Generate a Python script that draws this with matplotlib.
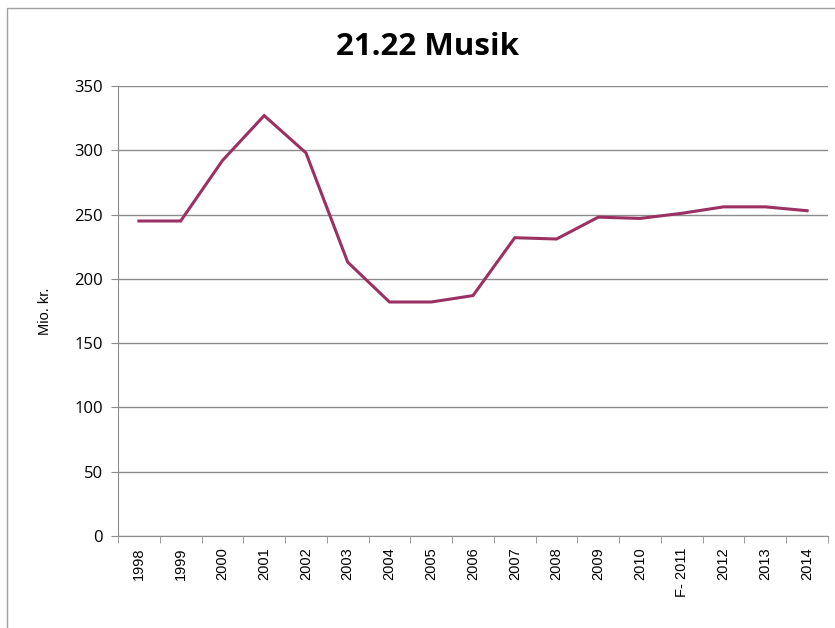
import matplotlib
matplotlib.use("Agg")
import matplotlib.pyplot as plt
from matplotlib.patches import Rectangle
from matplotlib.ticker import FixedLocator

years = ["1998", "1999", "2000", "2001", "2002", "2003", "2004", "2005", "2006",
         "2007", "2008", "2009", "2010", "F- 2011", "2012", "2013", "2014"]
values = [245, 245, 292, 327, 298, 213, 182, 182, 187,
          232, 231, 248, 247, 251, 256, 256, 253]
yticks = [0, 50, 100, 150, 200, 250, 300, 350]

fig = plt.figure(figsize=(8.35, 6.28), dpi=100)
fig.patches.append(Rectangle((7/835, -0.1), 2, 1 - 8/628 + 0.1, transform=fig.transFigure,
                             fill=False, edgecolor="#a0a0a0", linewidth=1.0))

ax = fig.add_axes([118/835, 1 - 536/628, (828 - 118)/835, (536 - 86)/628])
x = list(range(len(years)))
ax.plot(x, values, color="#9b3162", linewidth=2.2, solid_joinstyle="miter")

ax.set_xlim(-0.5, len(years) - 0.5)
ax.set_ylim(0, 350)
ax.set_yticks(yticks)
ax.yaxis.grid(True, color="#8c8c8c", linewidth=1.0)
ax.set_axisbelow(True)

ax.set_xticks(x)
ax.set_xticklabels(years, rotation=90, fontsize=10.5, family="Liberation Sans")
ax.xaxis.set_minor_locator(FixedLocator([i - 0.5 for i in range(len(years) + 1)]))
ax.tick_params(axis="x", which="major", length=0, pad=8)
ax.tick_params(axis="x", which="minor", length=5, color="#8c8c8c", direction="out")
ax.tick_params(axis="y", length=5, color="#8c8c8c", direction="out", labelsize=12, pad=6)
for lab in ax.get_yticklabels():
    lab.set_family(["Open Sans", "DejaVu Sans"])

for s in ["top", "right"]:
    ax.spines[s].set_visible(False)
ax.spines["left"].set_color("#8c8c8c")
ax.spines["bottom"].set_color("#8c8c8c")

ax.set_ylabel("Mio. kr.", fontsize=10.5, family="Liberation Sans", labelpad=16)
fig.text(427/835, 1 - 47/628, "21.22 Musik", ha="center", va="center",
         fontsize=22.5, fontweight="bold", family=["Open Sans", "DejaVu Sans"])

fig.savefig("out.png", dpi=100)
